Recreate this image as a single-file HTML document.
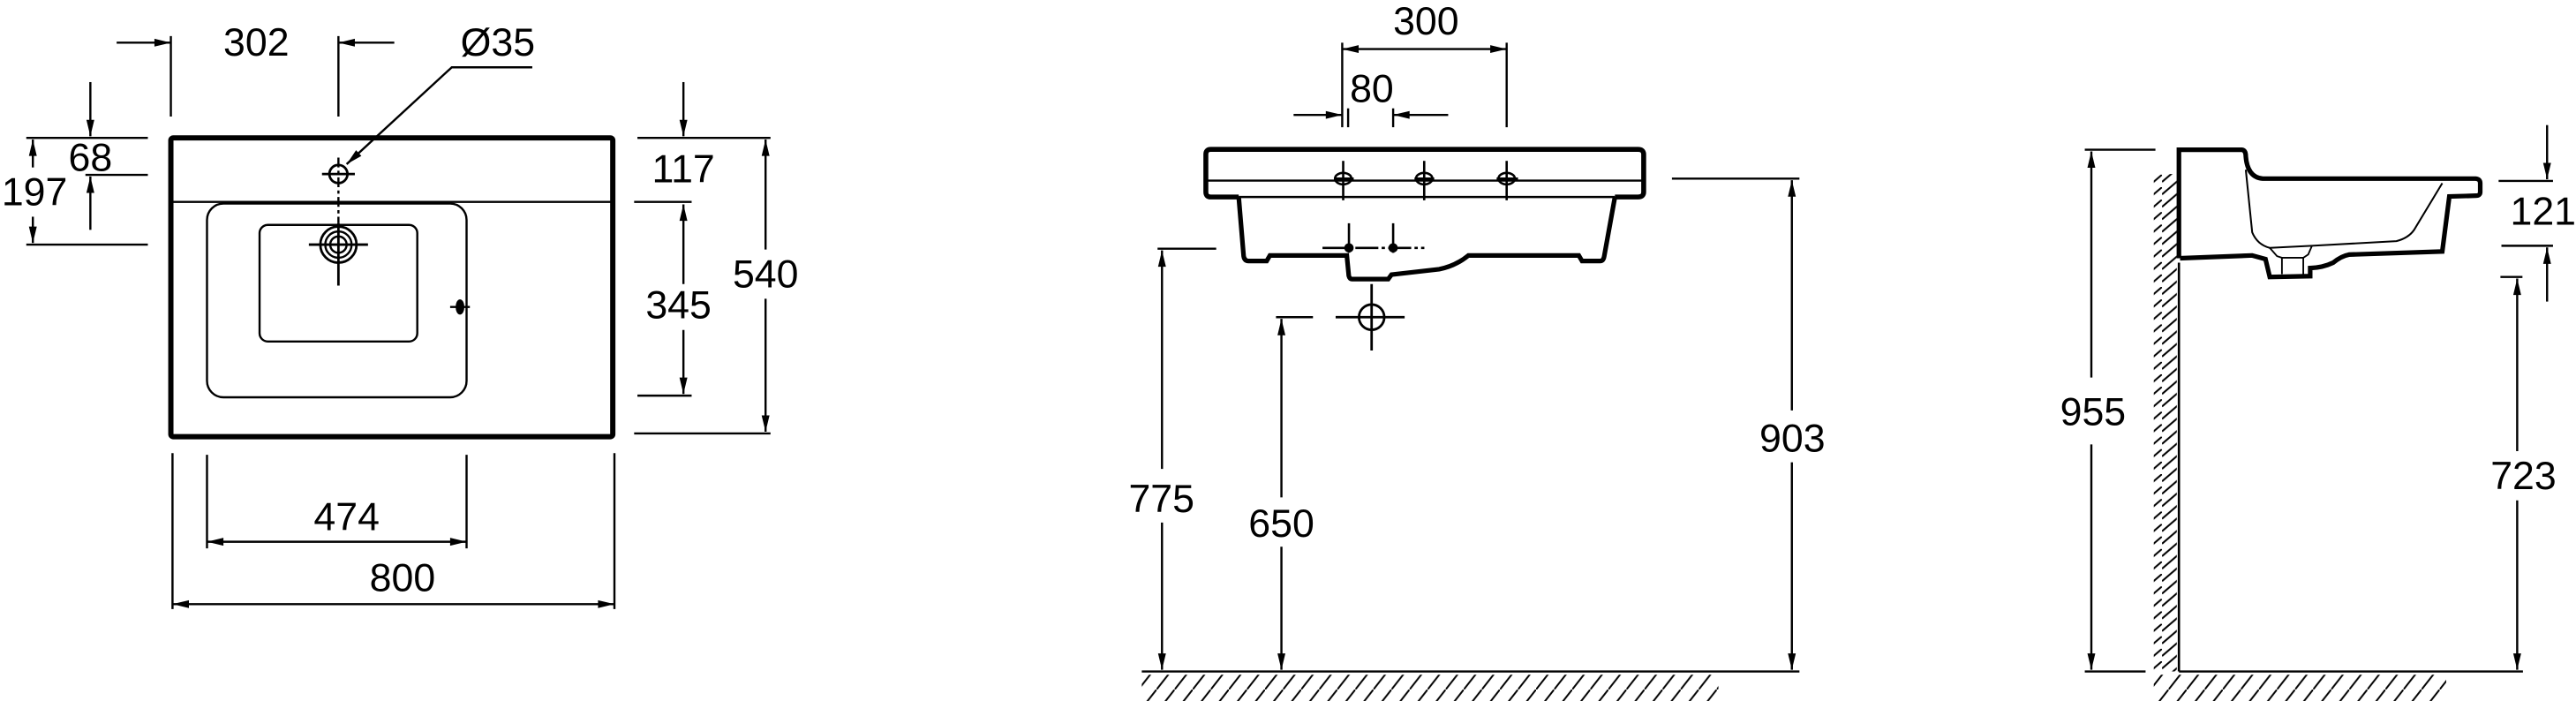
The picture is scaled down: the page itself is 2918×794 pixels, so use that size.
<!DOCTYPE html>
<html><head><meta charset="utf-8"><style>
html,body{margin:0;padding:0;background:#fff;}
svg{display:block;}
text{font-family:"Liberation Sans",Arial,sans-serif;font-size:24px;fill:#000;text-anchor:middle;}
</style></head><body>
<svg width="2918" height="794" viewBox="0 0 1568 427" preserveAspectRatio="none" xmlns="http://www.w3.org/2000/svg">
<defs>
<marker id="a" markerUnits="userSpaceOnUse" markerWidth="12" markerHeight="7" refX="10" refY="0" viewBox="0 -3.5 11 7" orient="auto"><path d="M0,-2.4 L10,0 L0,2.4 z" fill="#000"/></marker>
<marker id="b" markerUnits="userSpaceOnUse" markerWidth="12" markerHeight="7" refX="10" refY="0" viewBox="0 -3.5 11 7" orient="auto-start-reverse"><path d="M0,-2.4 L10,0 L0,2.4 z" fill="#000"/></marker>
<pattern id="h" patternUnits="userSpaceOnUse" width="11" height="14"><path d="M0,14 L11,0" stroke="#000" stroke-width="1.1"/></pattern>
<pattern id="w" patternUnits="userSpaceOnUse" width="14" height="7.6"><path d="M0,12 L14,0 M0,4.4 L14,-7.6" stroke="#000" stroke-width="1.1"/></pattern>
</defs>
<g fill="none" stroke="#000" stroke-width="1.3">
<!-- LEFT VIEW -->
<rect x="104" y="84" width="269" height="182" rx="1.5" stroke-width="3.2"/>
<line x1="104" y1="123" x2="373" y2="123"/>
<rect x="126" y="124" width="158" height="118" rx="10" stroke-width="1.3"/>
<rect x="158" y="137" width="96" height="71" rx="5" stroke-width="1.3"/>
<circle cx="206" cy="149" r="11" stroke-width="1.5"/>
<circle cx="206" cy="149" r="8"/>
<circle cx="206" cy="149" r="5"/>
<line x1="188" y1="149" x2="224" y2="149" stroke-width="1.5"/>
<line x1="206" y1="136" x2="206" y2="174" stroke-width="1.5"/>
<circle cx="206" cy="106" r="5.5" stroke-width="1.5"/>
<line x1="196" y1="106" x2="216" y2="106" stroke-width="1.5"/>
<line x1="206" y1="96" x2="206" y2="136" stroke-dasharray="6 2 2 2" stroke-width="1.3"/>
<ellipse cx="280" cy="187" rx="2" ry="4" fill="#000"/>
<line x1="274" y1="187" x2="286" y2="187"/>
<!-- 302 -->
<line x1="71" y1="26" x2="104" y2="26" marker-end="url(#a)"/>
<line x1="104" y1="22" x2="104" y2="71"/>
<line x1="240" y1="26" x2="206" y2="26" marker-end="url(#a)"/>
<line x1="206" y1="22" x2="206" y2="71"/>
<polyline points="324,41 275,41 211,100" marker-end="url(#a)"/>
<!-- 68 / 197 -->
<line x1="16" y1="84" x2="90" y2="84"/>
<line x1="52" y1="106.5" x2="90" y2="106.5"/>
<line x1="16" y1="149" x2="90" y2="149"/>
<line x1="55" y1="50" x2="55" y2="83" marker-end="url(#a)"/>
<line x1="55" y1="140" x2="55" y2="107.5" marker-end="url(#a)"/>
<line x1="20" y1="102" x2="20" y2="85" marker-end="url(#a)"/>
<line x1="20" y1="132" x2="20" y2="148" marker-end="url(#a)"/>
<!-- 117 / 345 / 540 -->
<line x1="388" y1="84" x2="469" y2="84"/>
<line x1="416" y1="50" x2="416" y2="83" marker-end="url(#a)"/>
<line x1="386" y1="123" x2="421" y2="123"/>
<line x1="388" y1="241" x2="421" y2="241"/>
<line x1="416" y1="173" x2="416" y2="124.5" marker-end="url(#a)"/>
<line x1="416" y1="201" x2="416" y2="240" marker-end="url(#a)"/>
<line x1="386" y1="264" x2="469" y2="264"/>
<line x1="466" y1="152" x2="466" y2="85" marker-end="url(#a)"/>
<line x1="466" y1="182" x2="466" y2="263" marker-end="url(#a)"/>
<!-- 474 / 800 -->
<line x1="126" y1="277" x2="126" y2="334"/>
<line x1="284" y1="277" x2="284" y2="334"/>
<line x1="126" y1="330" x2="284" y2="330" marker-start="url(#b)" marker-end="url(#b)"/>
<line x1="105" y1="276" x2="105" y2="371"/>
<line x1="374" y1="276" x2="374" y2="371"/>
<line x1="105" y1="368" x2="374" y2="368" marker-start="url(#b)" marker-end="url(#b)"/>

<!-- MIDDLE VIEW -->
<path d="M754,120 L737,120 Q734,120 734,117 L734,94 Q734,91 737,91 L997,91 Q1000.5,91 1000.5,94 L1000.5,117 Q1000.5,120 997,120 L983,120" stroke-width="3"/>
<line x1="734" y1="110" x2="1000" y2="110"/>
<line x1="754" y1="120" x2="983" y2="120"/>
<path d="M754,120 L757,156 Q757.5,159 760,159 L771,159 L773,155.6 L819.8,155.6 L821,168 Q821.5,170 823,170 L845,170 L847,167.3 L876,164 Q886,162 893.8,155.6 L961,155.6 L963,159 L974,159 Q976,159 976.5,156 L983,120" stroke-width="2.8"/>
<g stroke-width="1.4">
<ellipse cx="817.6" cy="108.8" rx="5" ry="3.5"/><line x1="812" y1="108.8" x2="824" y2="108.8"/><line x1="817.6" y1="98" x2="817.6" y2="122"/>
<ellipse cx="866.9" cy="108.8" rx="5" ry="3.5"/><line x1="861" y1="108.8" x2="873" y2="108.8"/><line x1="866.9" y1="98" x2="866.9" y2="122"/>
<ellipse cx="917.1" cy="108.8" rx="5" ry="3.5"/><line x1="911" y1="108.8" x2="924" y2="108.8"/><line x1="917.1" y1="98" x2="917.1" y2="122"/>
<line x1="805" y1="151" x2="867" y2="151" stroke-dasharray="14 2 2 2"/>
<line x1="821.1" y1="136" x2="821.1" y2="154"/><line x1="848" y1="136" x2="848" y2="154"/>
</g>
<circle cx="821.1" cy="151" r="2.2" fill="#000"/><circle cx="848" cy="151" r="2.2" fill="#000"/>
<circle cx="834.9" cy="193.2" r="7.7" stroke-width="1.5"/>
<line x1="813" y1="193.2" x2="855" y2="193.2" stroke-width="1.5"/>
<line x1="834.9" y1="173" x2="834.9" y2="213.5" stroke-width="1.5"/>
<!-- 300 / 80 -->
<line x1="817" y1="26" x2="817" y2="77.5"/>
<line x1="917.1" y1="26" x2="917.1" y2="77.5"/>
<line x1="817" y1="29.9" x2="917.1" y2="29.9" marker-start="url(#b)" marker-end="url(#b)"/>
<line x1="820.6" y1="66" x2="820.6" y2="77.5"/>
<line x1="848" y1="66" x2="848" y2="77.5"/>
<line x1="787.4" y1="70" x2="817" y2="70" marker-end="url(#a)"/>
<line x1="881.5" y1="70" x2="848" y2="70" marker-end="url(#a)"/>
<!-- 775 / 650 / 903 -->
<line x1="704.6" y1="151.5" x2="740.3" y2="151.5"/>
<line x1="707.3" y1="285.6" x2="707.3" y2="152.5" marker-end="url(#a)"/>
<line x1="707.3" y1="318.3" x2="707.3" y2="408" marker-end="url(#a)"/>
<line x1="776.7" y1="193.2" x2="799.2" y2="193.2"/>
<line x1="780" y1="303" x2="780" y2="194.2" marker-end="url(#a)"/>
<line x1="780" y1="333" x2="780" y2="408" marker-end="url(#a)"/>
<line x1="1017.7" y1="108.8" x2="1095.3" y2="108.8"/>
<line x1="1090.7" y1="250" x2="1090.7" y2="109.8" marker-end="url(#a)"/>
<line x1="1090.7" y1="281.6" x2="1090.7" y2="408" marker-end="url(#a)"/>
<line x1="695" y1="409" x2="1095.3" y2="409" stroke-width="1.3"/>

<!-- RIGHT VIEW -->
<path d="M1326.3,157.3 L1326.3,91.2 L1364.5,91.2 Q1367,91.5 1367,95.2 Q1368,108 1377.3,108.8 L1506.9,108.8 Q1509.7,109 1509.7,111.6 L1509.7,117 Q1509.7,119.2 1507,119.2 L1490.9,119.7 L1486.6,153.2 L1429.8,155.1 Q1425,156 1420.2,160 Q1414,163 1406.2,163.3 L1406.2,168.2 L1381.6,168.7 L1379,157.8 L1370.9,155.6 L1327,157.3" stroke-width="2.8"/>
<path d="M1367,103.4 L1370.9,141.5 Q1374,149 1381.6,151 L1407.3,149.7 L1458.7,146.9 Q1466,145 1469.4,140.1 L1486.6,111.6" stroke-width="1.1"/>
<path d="M1381.6,151 L1386,156 L1389,157 L1389,167 M1407.3,149.7 L1405,155 L1402,157 L1402,167 M1389,157 L1402,157" stroke-width="1"/>
<line x1="1326.3" y1="160" x2="1326.3" y2="409" stroke-width="1.4"/>
<line x1="1326.3" y1="409" x2="1535.7" y2="409" stroke-width="1.3"/>
<line x1="1269" y1="409" x2="1306" y2="409"/>
<line x1="1269" y1="91.2" x2="1312" y2="91.2"/>
<line x1="1273" y1="230" x2="1273" y2="92.2" marker-end="url(#a)"/>
<line x1="1273" y1="270.7" x2="1273" y2="408" marker-end="url(#a)"/>
<line x1="1520.9" y1="110.2" x2="1554" y2="110.2"/>
<line x1="1522.6" y1="149.7" x2="1554" y2="149.7"/>
<line x1="1550.4" y1="76.2" x2="1550.4" y2="109.2" marker-end="url(#a)"/>
<line x1="1550.4" y1="183.7" x2="1550.4" y2="150.7" marker-end="url(#a)"/>
<line x1="1522" y1="168.7" x2="1535.4" y2="168.7"/>
<line x1="1532.2" y1="274.8" x2="1532.2" y2="169.7" marker-end="url(#a)"/>
<line x1="1532.2" y1="304.8" x2="1532.2" y2="408" marker-end="url(#a)"/>
</g>
<rect x="695" y="411" width="351" height="16" fill="url(#h)"/>
<rect x="1311" y="411" width="178" height="16" fill="url(#h)"/>
<rect x="1311" y="106" width="14" height="303" fill="url(#w)"/>

<text x="156" y="34">302</text>
<text x="303" y="34">Ø35</text>
<text x="55" y="104">68</text>
<text x="21" y="125">197</text>
<text x="416" y="111">117</text>
<text x="413" y="194">345</text>
<text x="466" y="175">540</text>
<text x="211" y="323">474</text>
<text x="245" y="360">800</text>
<text x="868" y="21">300</text>
<text x="835" y="62">80</text>
<text x="707" y="312">775</text>
<text x="780" y="327">650</text>
<text x="1091" y="275">903</text>
<text x="1274" y="259">955</text>
<text x="1548" y="137">121</text>
<text x="1536" y="298">723</text>
</svg>
</body></html>
